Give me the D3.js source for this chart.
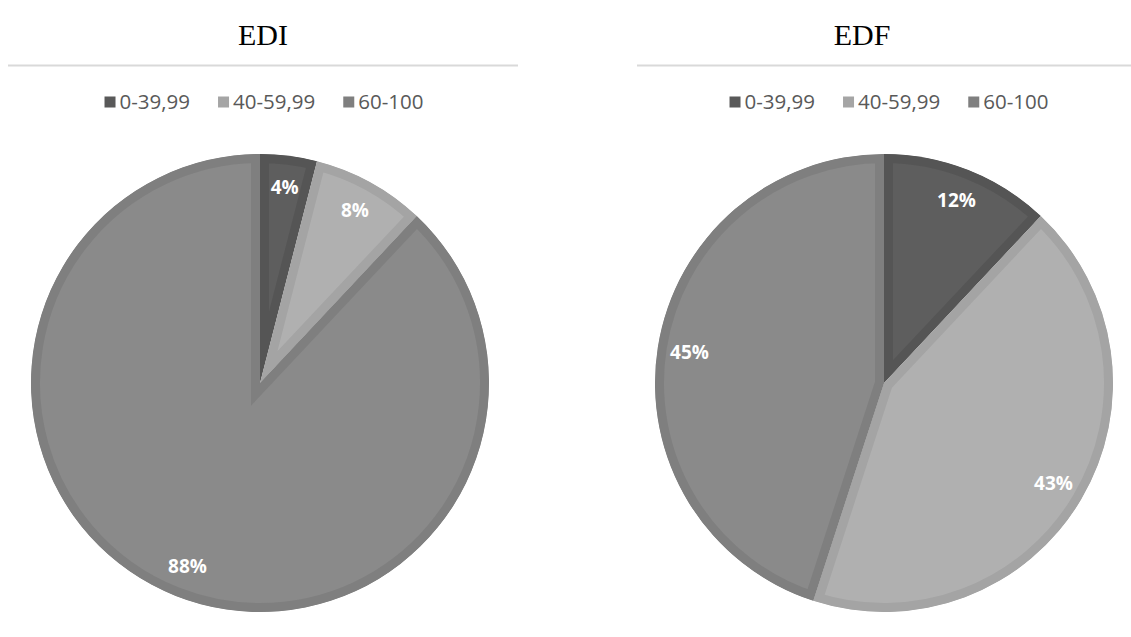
<!DOCTYPE html>
<html>
<head>
<meta charset="utf-8">
<script src="https://cdn.jsdelivr.net/npm/d3@7"></script>
<style>
    body { margin: 0; background: #fff; }
    svg { display: block; }
</style>
</head>
<body>
<div id="chart"></div>
<script>
var categories = ['0-39,99', '40-59,99', '60-100'];
var ediValues = [4, 8, 88];
var edfValues = [12, 43, 45];
var titles = ['EDI', 'EDF'];

var fills = ['#5e5e5e', '#b0b0b0', '#8a8a8a'];
var borders = ['#555555', '#a4a4a4', '#7f7f7f'];
var legendColors = ['#595959', '#a5a5a5', '#7f7f7f'];

var width = 1131, height = 637;

var svg = d3.select('#chart')
    .append('svg')
    .attr('width', width)
    .attr('height', height);

var defs = svg.append('defs');

var panels = [
    { title: titles[0], values: ediValues, titleX: 263, lineX: [8, 518], legendX: 264, cx: 260, cy: 383 },
    { title: titles[1], values: edfValues, titleX: 862, lineX: [637, 1131], legendX: 889, cx: 884, cy: 383 }
];

var radius = 229;
var borderW = 9;

var pie = d3.pie().sort(null).value(function(d) { return d; });
var arc = d3.arc().innerRadius(0).outerRadius(radius);
var labelArc = d3.arc().innerRadius(radius * 0.86).outerRadius(radius * 0.86);

panels.forEach(function(p, pi) {
    var g = svg.append('g');

    g.append('text')
        .attr('x', p.titleX)
        .attr('y', 45)
        .attr('text-anchor', 'middle')
        .attr('font-family', '"Liberation Serif", "Times New Roman", serif')
        .attr('font-size', '30px')
        .attr('fill', '#000')
        .text(p.title);

    g.append('line')
        .attr('x1', p.lineX[0])
        .attr('x2', p.lineX[1])
        .attr('y1', 65.5)
        .attr('y2', 65.5)
        .attr('stroke', '#d9d9d9')
        .attr('stroke-width', 2);

    // legend, laid out from measured text widths and centred
    var leg = g.append('g');
    var items = leg.selectAll('g.item')
        .data(categories)
        .join('g')
        .attr('class', 'item');
    items.append('rect')
        .attr('width', 11)
        .attr('height', 11)
        .attr('y', -5.5)
        .attr('fill', function(d, i) { return legendColors[i]; });
    items.append('text')
        .attr('x', 15)
        .attr('dy', '0.35em')
        .attr('font-family', '"Open Sans", "Noto Sans", sans-serif')
        .attr('font-size', '20.5px')
        .attr('fill', '#595959')
        .text(function(d) { return d; });
    var offs = [], x = 0;
    items.each(function(d, i) {
        var w = 15 + this.querySelector('text').getComputedTextLength();
        offs.push(x);
        x += w + 28;
    });
    var total = x - 28;
    items.attr('transform', function(d, i) { return 'translate(' + offs[i] + ',0)'; });
    leg.attr('transform', 'translate(' + (p.legendX - total / 2) + ',102)');

    // pie
    var arcs = pie(p.values);
    var pg = g.append('g').attr('transform', 'translate(' + p.cx + ',' + p.cy + ')');

    // each slice clipped to itself so the doubled stroke becomes an inner border
    arcs.forEach(function(a, i) {
        defs.append('clipPath')
            .attr('id', 'clip-' + pi + '-' + i)
            .append('path')
            .attr('d', arc(a));
    });

    pg.selectAll('path.slice')
        .data(arcs)
        .join('path')
        .attr('class', 'slice')
        .attr('d', arc)
        .attr('fill', function(d, i) { return fills[i]; })
        .attr('stroke', function(d, i) { return borders[i]; })
        .attr('stroke-width', borderW * 2)
        .attr('stroke-linejoin', 'miter')
        .attr('stroke-miterlimit', 10)
        .attr('clip-path', function(d, i) { return 'url(#clip-' + pi + '-' + i + ')'; });

    pg.selectAll('text.lbl')
        .data(arcs)
        .join('text')
        .attr('class', 'lbl')
        .attr('transform', function(d) { return 'translate(' + labelArc.centroid(d) + ')'; })
        .attr('text-anchor', 'middle')
        .attr('dy', '0.35em')
        .attr('font-family', '"Open Sans", "Noto Sans", sans-serif')
        .attr('font-weight', 'bold')
        .attr('font-size', '19px')
        .attr('fill', '#fff')
        .text(function(d) { return d.data + '%'; });
});
</script>
</body>
</html>
